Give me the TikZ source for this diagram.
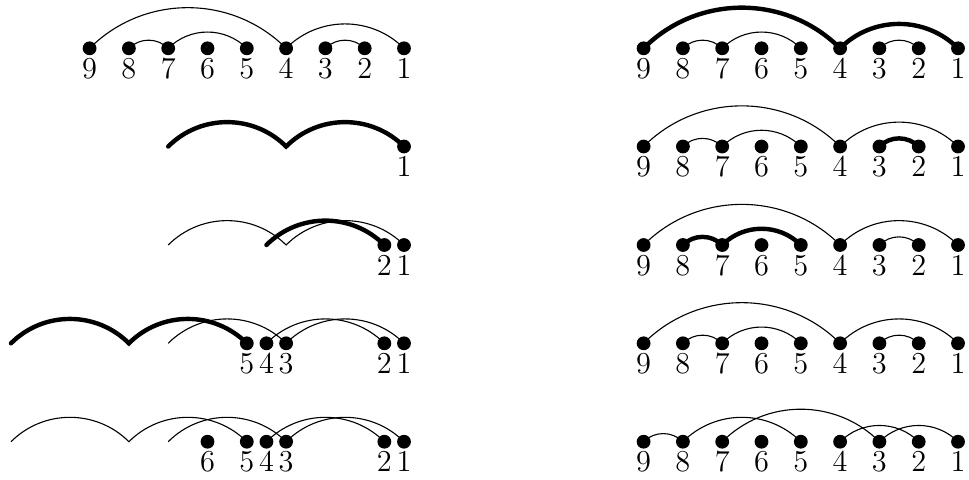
\documentclass[tikz,border=0pt]{standalone}
\usetikzlibrary{backgrounds}
\tikzset{
  dot/.style={circle,fill=black,inner sep=0pt,minimum size=5pt},
  lbl/.style={anchor=base,inner sep=0pt,font=\fontsize{11}{13}\selectfont},
  arcline/.style={line width=0.4pt,bend left=45},
  thickarc/.style={line width=1.6pt,bend left=45,line cap=round},
}
\newcommand\mkdot[4]{%
  \node[dot] (#1) at ({#2},{#3}) {};
  \node[lbl] (#1t) at ({#2},{#3-30}) {#4};}
\begin{document}
\begin{tikzpicture}[x=0.012723cm,y=0.012723cm]
\useasboundingbox (0,0) rectangle (969,479);
% ---------- left column ----------
% row a
\foreach \k in {1,...,9} {\mkdot{a\k}{404-39.3*(\k-1)}{430.7}{\k}}
% row b
\mkdot{b1}{404}{332.5}{1}
\coordinate (b7) at (168.2,332.5);
\coordinate (b4) at (286.1,332.5);
% row c
\mkdot{c2}{384.35}{234}{2}
\mkdot{c1}{404}{234}{1}
\coordinate (c7) at (168.2,234);
\coordinate (c4) at (286.1,234);
\coordinate (c4s) at (266.45,234);
% row d
\mkdot{d5}{246.8}{135.7}{5}
\mkdot{d4}{266.45}{135.7}{4}
\mkdot{d3}{286.1}{135.7}{3}
\mkdot{d2}{384.35}{135.7}{2}
\mkdot{d1}{404}{135.7}{1}
\coordinate (dA) at (11,135.7);
\coordinate (dB) at (128.9,135.7);
\coordinate (dC) at (168.2,135.7);
% row e
\mkdot{e6}{207.5}{37.3}{6}
\mkdot{e5}{246.8}{37.3}{5}
\mkdot{e4}{266.45}{37.3}{4}
\mkdot{e3}{286.1}{37.3}{3}
\mkdot{e2}{384.35}{37.3}{2}
\mkdot{e1}{404}{37.3}{1}
\coordinate (eA) at (11,37.3);
\coordinate (eB) at (128.9,37.3);
\coordinate (eC) at (168.2,37.3);
% ---------- right column ----------
\foreach \r/\yy in {f/430.7,g/332.5,h/234,i/135.7,j/37.3}
  {\foreach \k in {1,...,9} {\mkdot{\r\k}{958-39.3*(\k-1)}{\yy}{\k}}}
\begin{pgfonlayer}{background}
% left
\draw[arcline] (a9.center) to (a4.center) to (a1.center);
\draw[arcline] (a8.center) to (a7.center) to (a5.center);
\draw[arcline] (a3.center) to (a2.center);
\draw[thickarc] (b7) to (b4) to (b1.center);
\draw[arcline] (c7) to (c4) to (c1.center);
\draw[thickarc] (c4s) to (c2.center);
\draw[arcline] (dC) to (d3.center);
\draw[arcline] (d4.center) to (d2.center);
\draw[arcline] (d3.center) to (d1.center);
\draw[thickarc] (dA) to (dB) to (d5.center);
\draw[arcline] (eA) to (eB) to (e5.center);
\draw[arcline] (eC) to (e3.center);
\draw[arcline] (e4.center) to (e2.center);
\draw[arcline] (e3.center) to (e1.center);
% right row f
\draw[thickarc] (f9.center) to (f4.center) to (f1.center);
\draw[arcline] (f8.center) to (f7.center) to (f5.center);
\draw[arcline] (f3.center) to (f2.center);
% row g
\draw[arcline] (g9.center) to (g4.center) to (g1.center);
\draw[arcline] (g8.center) to (g7.center) to (g5.center);
\draw[thickarc] (g3.center) to (g2.center);
% row h
\draw[arcline] (h9.center) to (h4.center) to (h1.center);
\draw[thickarc] (h8.center) to (h7.center) to (h5.center);
\draw[arcline] (h3.center) to (h2.center);
% row i
\draw[arcline] (i9.center) to (i4.center) to (i1.center);
\draw[arcline] (i8.center) to (i7.center) to (i5.center);
\draw[arcline] (i3.center) to (i2.center);
% row j
\draw[arcline] (j9.center) to (j8.center);
\draw[arcline] (j8.center) to (j5.center);
\draw[arcline] (j7.center) to (j3.center);
\draw[arcline] (j4.center) to (j2.center);
\draw[arcline] (j3.center) to (j1.center);
\end{pgfonlayer}
\end{tikzpicture}
\end{document}
